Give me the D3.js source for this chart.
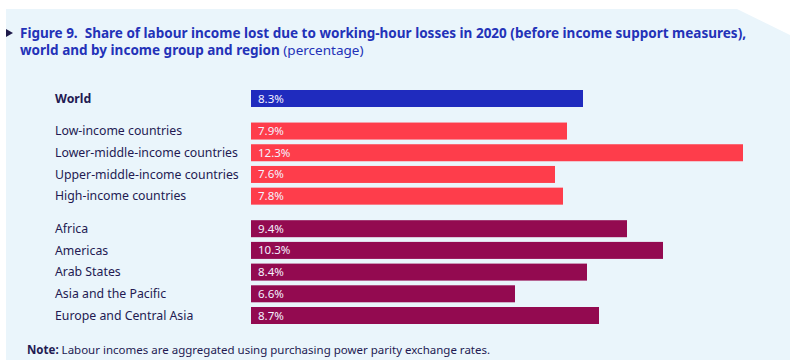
<!DOCTYPE html>
<html>
<head>
<meta charset="utf-8">
<script src="https://cdn.jsdelivr.net/npm/d3@7"></script>
<style>
  html, body { margin: 0; padding: 0; background: #ffffff; }
  svg { display: block; }
  text { font-family: "Noto Sans", "Open Sans", sans-serif; }
</style>
</head>
<body>
<svg id="chart" width="790" height="360"></svg>
<script>
// ---- data ----
const categories = [
  "World",
  "Low-income countries",
  "Lower-middle-income countries",
  "Upper-middle-income countries",
  "High-income countries",
  "Africa",
  "Americas",
  "Arab States",
  "Asia and the Pacific",
  "Europe and Central Asia"
];
const values = [8.3, 7.9, 12.3, 7.6, 7.8, 9.4, 10.3, 8.4, 6.6, 8.7];
const groups = ["world", "income", "income", "income", "income", "region", "region", "region", "region", "region"];
const slots = [0, 1.5, 2.5, 3.5, 4.5, 6, 7, 8, 9, 10]; // row positions incl. group gaps
const valueLabels = values.map(v => v.toFixed(1) + "%");

const titleLine1 = "Figure 9.\u00A0 Share of labour income lost due to working-hour losses in 2020 (before income support measures),";
const titleLine2Bold = "world and by income group and region";
const titleLine2Normal = " (percentage)";
const noteBold = "Note:";
const noteText = " Labour incomes are aggregated using purchasing power parity exchange rates.";

const colors = { world: "#1f2bbe", income: "#fe3d4b", region: "#930a50" };

// ---- drawing ----
const svg = d3.select("#chart");

// panel background with cut corner
svg.append("path")
  .attr("d", "M6,9 L737,9 L800,40 L800,360 L6,360 Z")
  .attr("fill", "#eaf5fb");

// title marker
svg.append("path").attr("d", "M6,29 L13,33 L6,37 Z").attr("fill", "#1e1a4a");

const titleG = svg.append("g");
const t1 = titleG.append("text")
  .attr("x", 20).attr("y", 38)
  .attr("font-size", 13.5).attr("font-weight", "bold").attr("fill", "#2332b8")
  .text(titleLine1);
const t2 = titleG.append("text")
  .attr("x", 20).attr("y", 55)
  .attr("font-size", 13.5).attr("fill", "#2332b8");
t2.append("tspan").attr("font-weight", "bold").text(titleLine2Bold);
t2.append("tspan").attr("font-weight", "normal").text(titleLine2Normal);
const w1 = t1.node().getComputedTextLength();
const r = 727 / w1;
titleG.attr("transform", `translate(20,0) scale(${r},1) translate(-20,0)`);

// scales
const x = d3.scaleLinear().domain([0, 12.3]).range([251, 743]);
const y = d3.scaleLinear().domain([0, 10]).range([90, 307]);
const barH = 17;

const rows = svg.append("g").selectAll("g")
  .data(categories.map((c, i) => ({ c, v: values[i], g: groups[i], s: slots[i], lab: valueLabels[i] })))
  .join("g");

rows.append("rect")
  .attr("x", x(0))
  .attr("y", d => y(d.s))
  .attr("width", d => x(d.v) - x(0))
  .attr("height", barH)
  .attr("fill", d => colors[d.g]);

rows.append("text")
  .attr("x", 55)
  .attr("y", d => y(d.s) + barH / 2)
  .attr("dy", "0.35em")
  .attr("font-size", 12.3)
  .attr("font-weight", d => d.g === "world" ? "bold" : "normal")
  .attr("fill", "#231a52")
  .text(d => d.c);

rows.append("text")
  .attr("x", x(0) + 7)
  .attr("y", d => y(d.s) + barH / 2)
  .attr("dy", "0.35em")
  .attr("font-size", 11.5)
  .attr("fill", "#f4f2ff")
  .text(d => d.lab);

// note
const note = svg.append("text").attr("x", 27).attr("y", 354)
  .attr("font-size", 11.5).attr("fill", "#231a52");
note.append("tspan").attr("font-weight", "bold").text(noteBold);
note.append("tspan").text(noteText);
</script>
</body>
</html>
